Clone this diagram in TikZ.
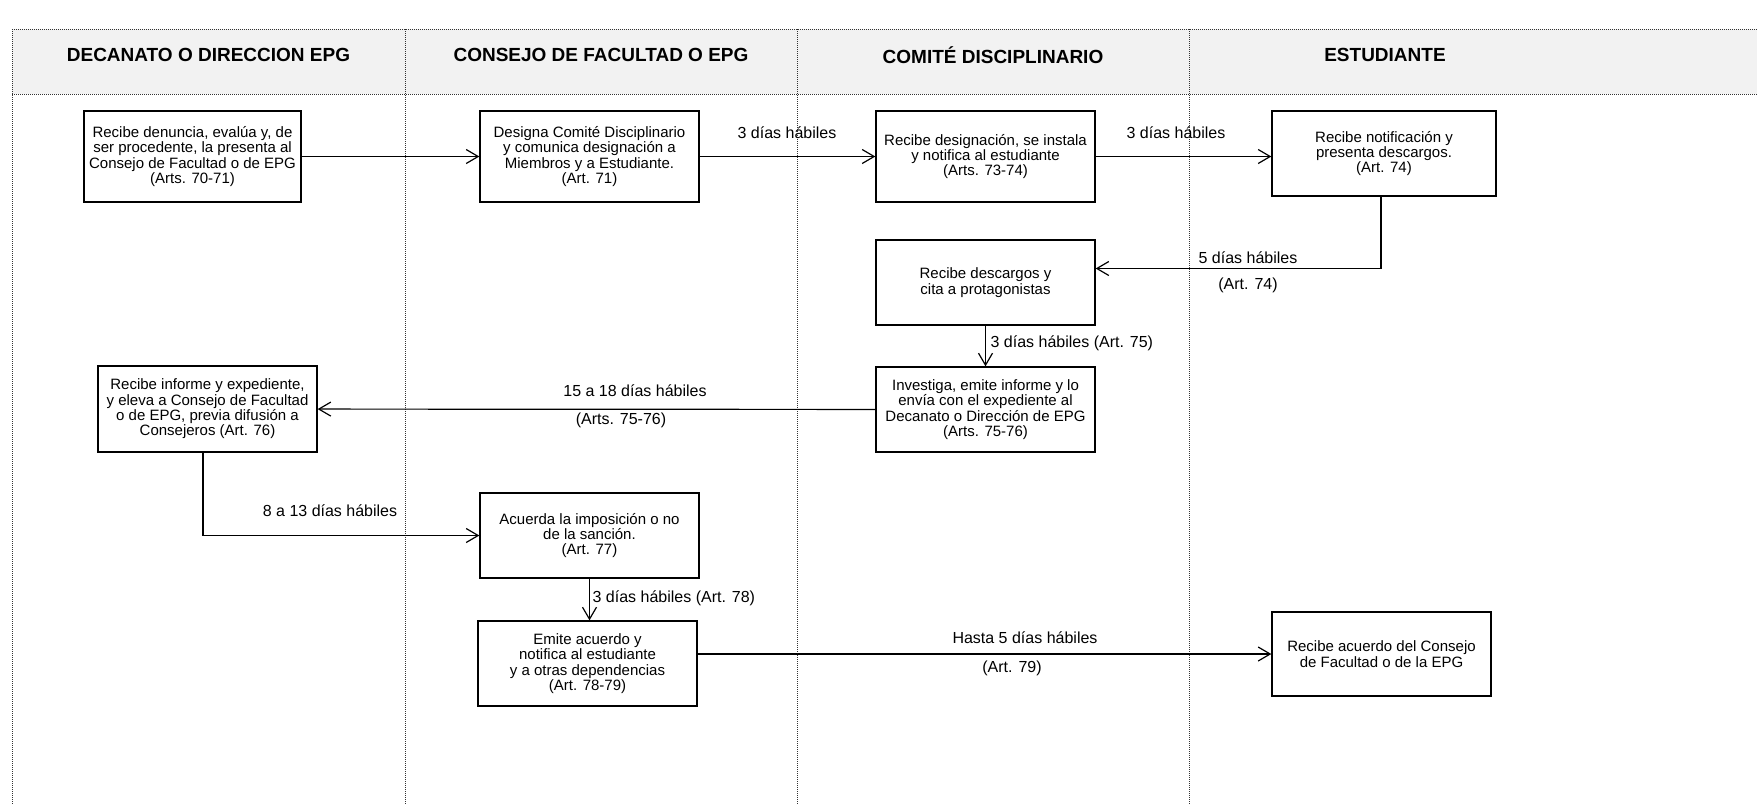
\documentclass[tikz,border=0pt]{standalone}
\usepackage{fontspec}
\setmainfont{Liberation Sans}
\usetikzlibrary{arrows.meta}

\begin{document}
\begin{tikzpicture}[x=1pt,y=-1pt,line width=1.2pt,
  box/.style={draw,line width=1.3pt,fill=white,align=center,inner sep=0pt,
    minimum width=219pt,minimum height=86pt,font=\fontsize{15}{15.4}\selectfont},
  lbl/.style={font=\fontsize{16}{18}\selectfont,inner sep=0pt},
  lane/.style={line width=1pt,densely dotted,black!80},
  flow/.style={-{Straight Barb[length=12pt,width=14pt,line width=1.2pt]}}]
\useasboundingbox (0,0) rectangle (1757,804);

% lanes
\fill[gray!10] (12,29) rectangle (1757,94);
\draw[lane] (12,29) -- (1757,29) (12,94) -- (1757,94);
\foreach \x in {12,405,797,1189} \draw[lane] (\x,29) -- (\x,804);
\foreach \x/\t [count=\i] in {208.5/DECANATO O DIRECCION EPG, 601/CONSEJO DE FACULTAD O EPG, 993/COMITÉ DISCIPLINARIO, 1385/ESTUDIANTE}
  \node[font=\bfseries\fontsize{19}{22}\selectfont] (h\i) at (\x,55) {\t};

% steps
\node[box,minimum width=217pt,minimum height=91pt] (b1) at (192.5,156.5) {Recibe denuncia, evalúa y, de\\ser procedente, la presenta al\\Consejo de Facultad o de EPG\\(Arts. 70-71)};
\node[box,minimum height=91pt] (b2) at (589.5,156.5) {Designa Comité Disciplinario\\y comunica designación a\\Miembros y a Estudiante.\\(Art. 71)};
\node[box,minimum height=91pt] (b3) at (985.5,156.5) {Recibe designación, se instala\\y notifica al estudiante\\(Arts. 73-74)};
\node[box,minimum width=224pt,minimum height=85pt] (b4) at (1384,153.5) {Recibe notificación y\\presenta descargos.\\(Art. 74)};
\node[box,minimum height=85pt] (b5) at (985.5,282.5) {Recibe descargos y\\cita a protagonistas};
\node[box,minimum height=85pt] (b6) at (985.5,409.5) {Investiga, emite informe y lo\\envía con el expediente al\\Decanato o Dirección de EPG\\(Arts. 75-76)};
\node[box] (b7) at (207.5,409) {Recibe informe y expediente,\\y eleva a Consejo de Facultad\\o de EPG, previa difusión a\\Consejeros (Art. 76)};
\node[box,minimum height=85pt] (b8) at (589.5,535.5) {Acuerda la imposición o no\\de la sanción.\\(Art. 77)};
\node[box,minimum height=85pt] (b9) at (587.5,663.5) {Emite acuerdo y\\notifica al estudiante\\y a otras dependencias\\(Art. 78-79)};
\node[box,minimum height=84pt] (b10) at (1381.5,654) {Recibe acuerdo del Consejo\\de Facultad o de la EPG};

% flow
\draw[flow] (b1) -- (b2);
\draw[flow] (b2) -- (b3);
\draw[flow] (b3.east) -- (b3.east -| b4.west);
\draw[flow] ([xshift=-3pt]b4.south) |- ([yshift=14pt]b5.east);
\draw[flow] (b5) -- (b6);
\draw[flow] (b6) -- (b7);
\draw[flow] ([xshift=-4.5pt]b7.south) |- (b8.west);
\draw[flow] (b8.south) -- (b8.south |- b9.north);
\draw[flow] (b9.east |- b10.west) -- (b10.west);

% times
\node[lbl] (t1) at (787,133) {3 días hábiles};
\node[lbl] (t2) at (1176,133) {3 días hábiles};
\node[lbl] (t3) at (1248,258) {5 días hábiles};
\node[lbl] (a3) at (1248,285) {(Art. 74)};
\node[lbl,anchor=west] (t4) at (990,343) {3 días hábiles (Art. 75)};
\node[lbl] (t5) at (635,391) {15 a 18 días hábiles};
\node[lbl] (a5) at (621,420) {(Arts. 75-76)};
\node[lbl] (t6) at (330,511) {8 a 13 días hábiles};
\node[lbl,anchor=west] (t7) at (592,598) {3 días hábiles (Art. 78)};
\node[lbl] (t8) at (1025,638) {Hasta 5 días hábiles};
\node[lbl] (a8) at (1012,668) {(Art. 79)};
\end{tikzpicture}
\end{document}
